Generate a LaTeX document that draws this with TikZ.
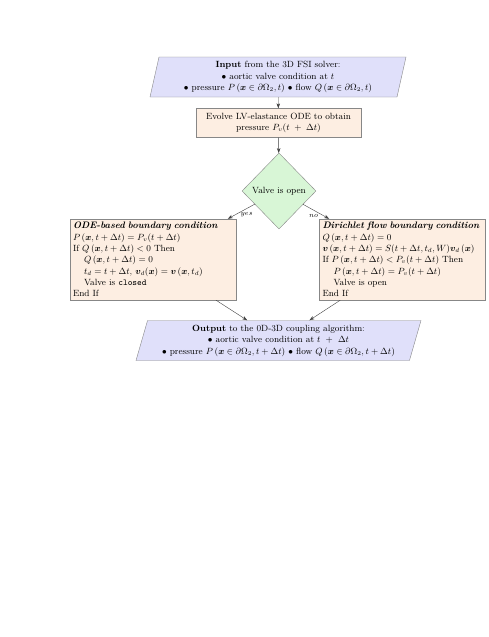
\documentclass[tikz,border=0pt]{standalone}
\usepackage{amsmath,bm}
\usetikzlibrary{shapes.geometric,arrows.meta}
\definecolor{iofill}{RGB}{224,224,250}
\definecolor{procfill}{RGB}{253,238,226}
\definecolor{decfill}{RGB}{216,246,214}
\definecolor{edgegray}{RGB}{135,135,135}
\protected\def\tightlines{\lineskiplimit=-10pt\relax}
\newcommand\condtitle[1]{\mbox{\fontsize{9.4}{11.3}\selectfont\textbf{\textit{#1}}}}
\begin{document}
\begin{tikzpicture}[x=1pt,y=-1pt,
  iobox/.style={trapezium, trapezium stretches body, draw=edgegray, fill=iofill,
    inner sep=1pt, align=center, font=\fontsize{9}{11.5}\selectfont\tightlines},
  procbox/.style={rectangle, draw=edgegray, fill=procfill, inner sep=1pt,
    minimum width=165pt, minimum height=29pt, align=center,
    font=\fontsize{9}{11.5}\selectfont\tightlines},
  decbox/.style={diamond, draw=edgegray, fill=decfill, inner sep=0pt,
    minimum width=74pt, minimum height=76pt, font=\fontsize{9}{10}\selectfont},
  condbox/.style={rectangle, draw=edgegray, fill=procfill, inner xsep=3pt,
    inner ysep=2pt, minimum height=81pt, align=left,
    font=\fontsize{9}{11.3}\selectfont\tightlines},
  conn/.style={draw=black!75, -{Stealth[length=5pt,width=3.5pt]}},
  edgelabel/.style={font=\fontsize{7}{7}\selectfont, inner sep=1pt}
]
\useasboundingbox (0,0) rectangle (489,637);
\fill[white] (0,0) rectangle (489,637);

\node[iobox, trapezium left angle=75, trapezium right angle=105,
      minimum width=256pt, minimum height=40pt] (input) at (278,77)
  {\textbf{Input} from the 3D FSI solver:\\
   $\bullet$ aortic valve condition at $t$\\
   $\bullet$ pressure $P\left(\bm{x}\in\partial\Omega_2, t\right)$ $\bullet$ flow $Q\left(\bm{x}\in\partial\Omega_2, t\right)$};

\node[procbox] (evolve) at (278.5,123)
  {Evolve LV-elastance ODE to obtain\\ pressure $P_v(t\;+\;\Delta t)$};

\node[decbox] (valve) at (279,191) {Valve is open};

\node[condbox, text width=160pt] (ode) at (153,259.5)
  {\condtitle{ODE-based boundary condition}\\
   $P\left(\bm{x}, t+\Delta t\right) = P_v(t+\Delta t)$\\
   If $Q\left(\bm{x}, t+\Delta t\right) < 0$ Then\\
   \hspace*{11pt}$Q\left(\bm{x}, t+\Delta t\right) = 0$\\
   \hspace*{11pt}$t_d = t+\Delta t$, $\bm{v}_d(\bm{x}) = \bm{v}\left(\bm{x}, t_d\right)$\\
   \hspace*{11pt}Valve is \texttt{closed}\\
   End If};

\node[condbox, text width=160pt] (dir) at (402.5,259.5)
  {\condtitle{Dirichlet flow boundary condition}\\
   $Q\left(\bm{x}, t+\Delta t\right) = 0$\\
   $\bm{v}\left(\bm{x}, t+\Delta t\right) = S(t+\Delta t, t_d, W)\bm{v}_d\left(\bm{x}\right)$\\
   If $P\left(\bm{x}, t+\Delta t\right) < P_v(t+\Delta t)$ Then\\
   \hspace*{11pt}$P\left(\bm{x}, t+\Delta t\right) = P_v(t+\Delta t)$\\
   \hspace*{11pt}Valve is open\\
   End If};

\node[iobox, trapezium left angle=71, trapezium right angle=109,
      minimum width=285pt, minimum height=40pt] (output) at (278.5,340.5)
  {\textbf{Output} to the 0D-3D coupling algorithm:\\
   $\bullet$ aortic valve condition at $t\ +\ \Delta t$\\
   $\bullet$ pressure $P\left(\bm{x}\in\partial\Omega_2, t+\Delta t\right)$ $\bullet$ flow $Q\left(\bm{x}\in\partial\Omega_2, t+\Delta t\right)$};

\draw[conn] (input) -- (evolve);
\draw[conn] (evolve) -- (valve);
\draw[conn] (valve) -- node[edgelabel, pos=0.3, below=3pt] {$yes$} (ode);
\draw[conn] (valve) -- node[edgelabel, pos=0.4, below=3pt] {$no$} (dir);
\draw[conn] (ode) -- (output);
\draw[conn] (dir) -- (output);
\end{tikzpicture}
\end{document}
